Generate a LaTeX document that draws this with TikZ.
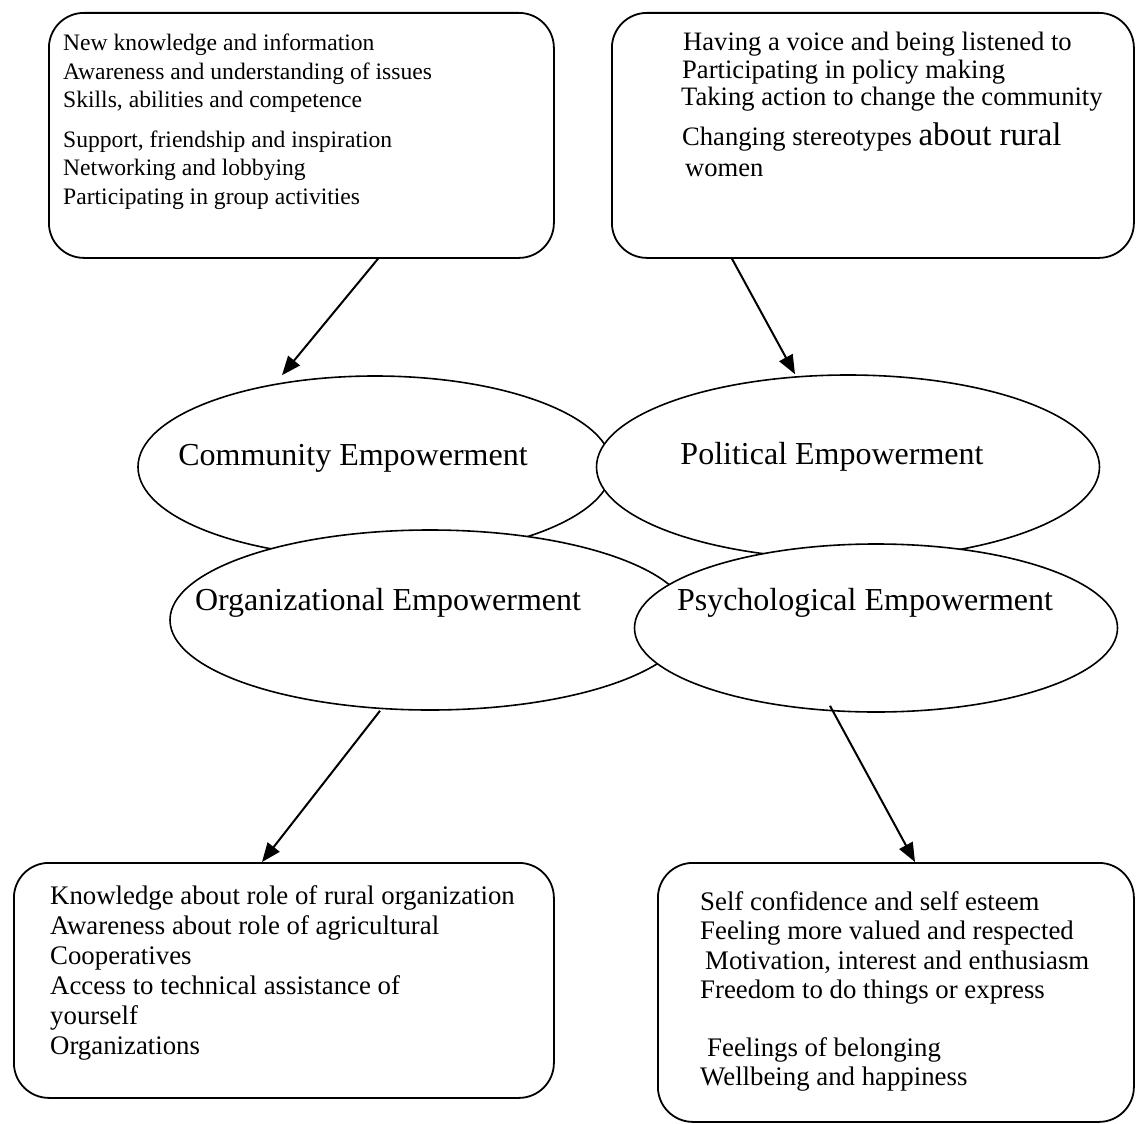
\documentclass[tikz,border=0pt]{standalone}
\usepackage{fontspec}
\setmainfont{Liberation Serif}
\usetikzlibrary{shapes.geometric,arrows.meta,positioning}

\tikzset{
  infobox/.style={draw, rounded corners=35pt, line width=1.8pt, anchor=north west, inner sep=0pt},
  boxtext/.style={anchor=north west, align=left, inner sep=0pt, font=\fontsize{26.6}{27.5}\selectfont},
  oval/.style={draw, ellipse, fill=white, line width=1.6pt, inner sep=0pt},
  ovaltext/.style={font=\fontsize{32}{36}\selectfont, inner sep=0pt},
  arr/.style={-{Triangle[length=19pt,width=15pt]}, line width=2pt},
}

\begin{document}
\begin{tikzpicture}[x=1pt,y=1pt,yscale=-1]
\useasboundingbox (0,0) rectangle (1136,1124);

% top boxes (yscale=-1, so a positive yshift goes down)
\node[infobox, minimum width=505pt, minimum height=245pt] (know) at (48,12) {};
\node[boxtext, font=\fontsize{23.6}{28.5}\selectfont] (knowtxt) at ([xshift=15pt,yshift=22pt]know.north west) {New knowledge and information\\
Awareness and understanding of issues\\
Skills, abilities and competence\\[11pt]
Support, friendship and inspiration\\
Networking and lobbying\\
Participating in group activities};

\node[infobox, minimum width=522pt, minimum height=245pt] (voice) at (611,12) {};
\node[boxtext] (voicetxt) at ([xshift=70pt,yshift=20pt]voice.north west) {\hspace{2pt}Having a voice and being listened to\\
\hspace{1pt}Participating in policy making\\
Taking action to change the community\\[10pt]
\hspace{1pt}Changing stereotypes {\fontsize{32.8}{32.8}\selectfont about rural}\\[4pt]
\hspace{4pt}women};

% the four ovals
\node[oval, minimum width=474pt, minimum height=182pt] (comm) at (375,467) {};
\node[oval, minimum width=503pt, minimum height=184pt] (pol) at (848,467) {};
\node[oval, minimum width=520pt, minimum height=180pt] (org) at (430,620) {};
\node[oval, minimum width=483pt, minimum height=168pt] (psy) at (876,628) {};

\node[ovaltext] (commtxt) at (353,458) {Community Empowerment};
\node[ovaltext] (poltxt) at (832,457) {Political Empowerment};
\node[ovaltext] (orgtxt) at (388,603) {Organizational Empowerment};
\node[ovaltext] (psytxt) at (865,603) {Psychological Empowerment};

% bottom boxes
\node[infobox, minimum width=540pt, minimum height=235pt] (rural) at (13,862) {};
\node[boxtext, font=\fontsize{26.8}{30}\selectfont] (ruraltxt) at ([xshift=37pt,yshift=23pt]rural.north west) {Knowledge about role of rural organization\\
Awareness about role of agricultural\\
Cooperatives\\
Access to technical assistance of\\
yourself\\
Organizations};

\node[infobox, minimum width=476pt, minimum height=259pt] (self) at (657,862) {};
\node[boxtext, font=\fontsize{26.8}{29.5}\selectfont] (selftxt) at ([xshift=43pt,yshift=29pt]self.north west) {Self confidence and self esteem\\
Feeling more valued and respected\\
\hspace{5pt}Motivation, interest and enthusiasm\\
Freedom to do things or express\\[28pt]
\hspace{7pt}Feelings of belonging\\
Wellbeing and happiness};

% arrows
\draw[arr] ([xshift=330pt]know.south west) -- ([xshift=-93pt]comm.north);
\draw[arr] ([xshift=121pt]voice.south west) -- ([xshift=-53pt]pol.north);
\draw[arr] ([xshift=-50pt]org.south) -- ([xshift=249pt]rural.north west);
\draw[arr] ([xshift=-46pt,yshift=-7pt]psy.south) -- ([xshift=258pt]self.north west);
\end{tikzpicture}
\end{document}
